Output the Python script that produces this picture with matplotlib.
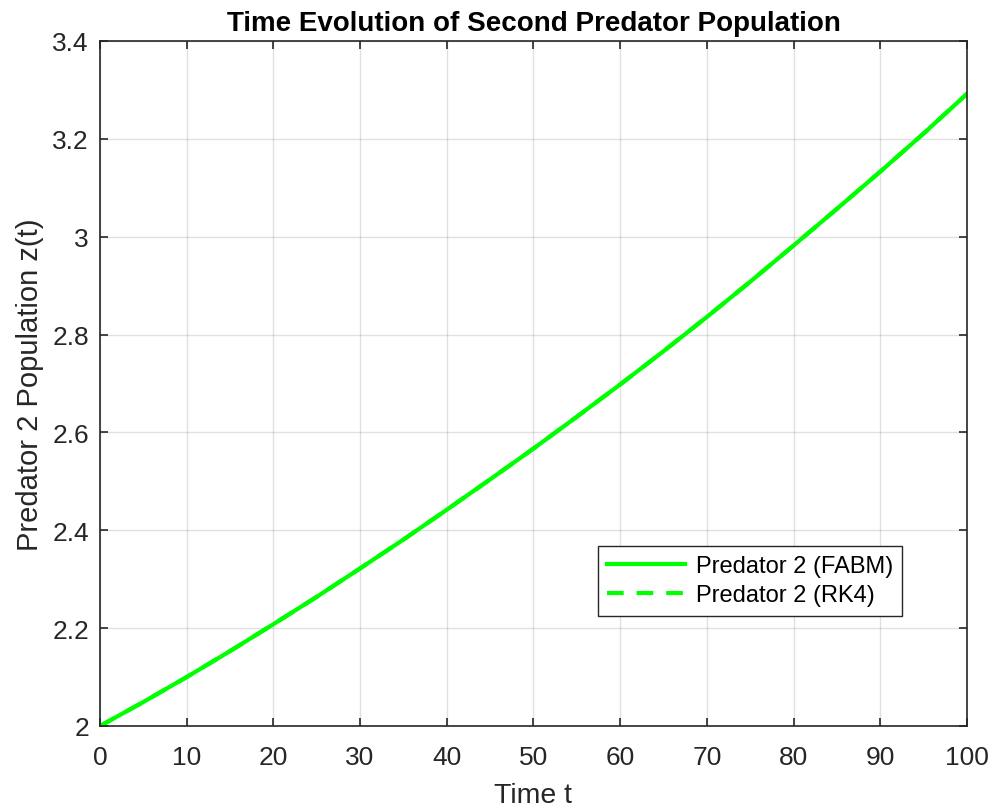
import numpy as np
import matplotlib
matplotlib.use("Agg")
import matplotlib.pyplot as plt

plt.rcParams['font.family'] = ['Liberation Sans', 'DejaVu Sans']

# values
t = [0, 5, 10, 15, 20, 25, 30, 35, 40, 45, 50,
     55, 60, 65, 70, 75, 80, 85, 90, 95, 100]
z_fabm = [2.000, 2.049, 2.100, 2.153, 2.208, 2.264, 2.322, 2.381, 2.442, 2.504, 2.567,
          2.632, 2.698, 2.766, 2.836, 2.908, 2.982, 3.057, 3.133, 3.211, 3.292]
z_rk4 = [2.000, 2.049, 2.100, 2.153, 2.208, 2.264, 2.322, 2.381, 2.442, 2.504, 2.567,
         2.632, 2.698, 2.766, 2.836, 2.908, 2.982, 3.057, 3.133, 3.211, 3.292]

xticks = [0, 10, 20, 30, 40, 50, 60, 70, 80, 90, 100]
yticks = [2, 2.2, 2.4, 2.6, 2.8, 3, 3.2, 3.4]
yticklabels = ['2', '2.2', '2.4', '2.6', '2.8', '3', '3.2', '3.4']

fig = plt.figure(figsize=(9.93, 8.12), dpi=100)
ax = fig.add_axes([0.1007, 0.1047, 0.8731, 0.8436])

ax.plot(t, z_fabm, '-', color='#00ff00', lw=3, label='Predator 2 (FABM)')
ax.plot(t, z_rk4, '--', color='#00ff00', lw=3, dashes=(4, 3.1), label='Predator 2 (RK4)')

ax.set_xlim(0, 100)
ax.set_ylim(2, 3.4)
ax.set_xticks(xticks)
ax.set_yticks(yticks)
ax.set_yticklabels(yticklabels)

edge = '#262626'
for s in ax.spines.values():
    s.set_color(edge)
    s.set_linewidth(1.2)
ax.tick_params(direction='in', length=6, width=1.2, colors=edge,
               top=True, right=True, labelsize=19)
ax.tick_params(axis='x', pad=14)
ax.tick_params(axis='y', pad=8)
ax.grid(True, color='#000000', alpha=0.12, lw=1)

ax.set_title('Time Evolution of Second Predator Population',
             fontsize=20, fontweight='bold', pad=8)
ax.set_xlabel('Time t', fontsize=20.5, color=edge, labelpad=9)
ax.set_ylabel('Predator 2 Population z(t)', fontsize=21, color=edge, labelpad=6)

leg = ax.legend(loc='upper left', bbox_to_anchor=(0.574, 0.263), borderaxespad=0,
                fontsize=17, fancybox=False, framealpha=1, edgecolor=edge,
                handlelength=3.3, handletextpad=0.45, borderpad=0.4, labelspacing=0.3)
leg.get_frame().set_linewidth(1.0)

fig.savefig('out.png', dpi=100)
